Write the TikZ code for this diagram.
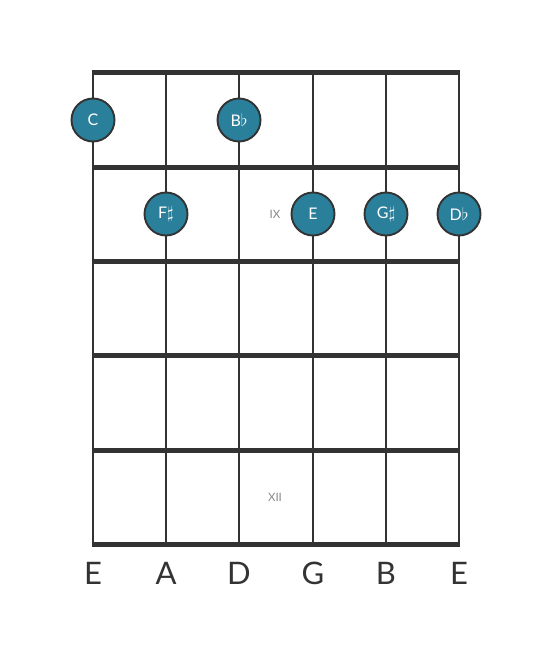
\documentclass[tikz,border=0pt]{standalone}
\usepackage{fontspec}
\setmainfont{Lato}
\definecolor{linec}{HTML}{333333}
\definecolor{notec}{HTML}{2A7F9B}
\definecolor{markc}{HTML}{888888}
\begin{document}
\begin{tikzpicture}[x=1pt,y=-1pt,
  stringline/.style={draw=linec,line width=2.8pt},
  fretline/.style={draw=linec,line width=5pt},
  note/.style={circle,draw=linec,line width=1.9pt,fill=notec,minimum size=43pt,inner sep=0pt,text=white,font=\fontsize{16}{16}\selectfont},
  fretmark/.style={text=markc,font=\fontsize{11.5}{11.5}\selectfont},
  strlabel/.style={text=linec,font=\fontsize{31}{31}\selectfont}]
\useasboundingbox (0,0) rectangle (553,656);
\foreach \x in {93,166,239,313,386,459}{
  \draw[stringline] (\x,72) -- (\x,544);
}
\foreach \y in {72,167,261,355,450,544}{
  \draw[fretline] (91.6,\y) -- (460.4,\y);
}
\node[fretmark] (ix) at (275,214) {IX};
\node[fretmark] (xii) at (275,497) {XII};
\node[note] (c) at (93,120) {C};
\node[note] (bb) at (239,120) {B$\flat$};
\node[note] (fs) at (166,214) {F$\sharp$};
\node[note] (e) at (313,214) {E};
\node[note] (gs) at (386,214) {G$\sharp$};
\node[note] (db) at (459,214) {D$\flat$};
\node[strlabel] (l1) at (93,573) {E};
\node[strlabel] (l2) at (166,573) {A};
\node[strlabel] (l3) at (239,573) {D};
\node[strlabel] (l4) at (313,573) {G};
\node[strlabel] (l5) at (386,573) {B};
\node[strlabel] (l6) at (459,573) {E};
\end{tikzpicture}
\end{document}
